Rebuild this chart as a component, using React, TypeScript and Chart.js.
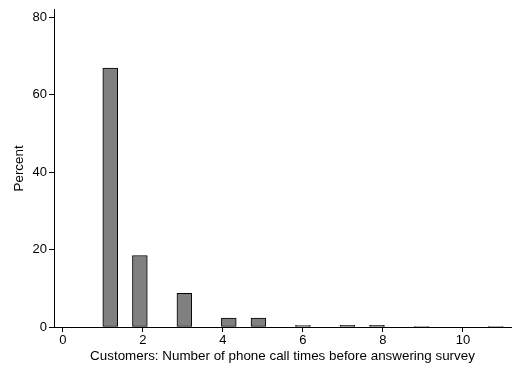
import { useEffect, useRef } from "react";
import { Chart, registerables } from "chart.js";

Chart.register(...registerables);

// Observed share of customers (percent) by number of calls before they answered
const callTimes = [1, 2, 3, 4, 5, 6, 7, 8, 9, 10, 11];
const percents = [66.85, 18.45, 8.7, 2.3, 2.3, 0.45, 0.4, 0.4, 0.1, 0, 0.15];

// Histogram binning: 27 equal bins between the smallest and largest value
const binCount = 27;
const binLow = 1;
const binHigh = 11;

const xTickValues = [0, 2, 4, 6, 8, 10];
const yTickValues = [0, 20, 40, 60, 80];

const xTitle = "Customers: Number of phone call times before answering survey";
const yTitle = "Percent";

const FONT_FAMILY = "'Liberation Sans', Arial, Helvetica, sans-serif";

function buildBins() {
  const width = (binHigh - binLow) / binCount;
  const sums: number[] = new Array(binCount).fill(0);
  callTimes.forEach((v, i) => {
    const idx = Math.min(Math.floor((v - binLow) / width + 1e-9), binCount - 1);
    sums[idx] += percents[i];
  });
  return sums.map((s, i) => ({
    x: binLow + (i + 0.5) * width,
    y: s > 0 ? s : null,
  }));
}

export default function App() {
  const canvasRef = useRef<HTMLCanvasElement | null>(null);

  useEffect(() => {
    document.body.style.margin = "0";
    const canvas = canvasRef.current;
    if (!canvas) return;

    const tickFont = { family: FONT_FAMILY, size: 13 };
    const titleFont = { family: FONT_FAMILY, size: 13.4 };

    const chart = new Chart(canvas, {
      type: "bar",
      data: {
        datasets: [
          {
            data: buildBins() as any,
            backgroundColor: "#808080",
            borderColor: "#000000",
            borderWidth: 1,
            barPercentage: 1,
            categoryPercentage: 1,
            borderSkipped: false,
          },
        ],
      },
      options: {
        responsive: false,
        animation: false,
        devicePixelRatio: 1,
        layout: { padding: { left: 0, right: 8, top: 9, bottom: 0 } },
        plugins: {
          legend: { display: false },
          tooltip: { enabled: false },
        },
        scales: {
          x: {
            type: "linear",
            min: -0.22,
            max: 11.2,
            offset: false,
            afterFit: (scale: any) => {
              scale.height = 42;
            },
            afterBuildTicks: (scale: any) => {
              scale.ticks = xTickValues.map((v) => ({ value: v }));
            },
            grid: {
              offset: false,
              drawOnChartArea: false,
              drawTicks: true,
              tickLength: 5,
              color: "#000000",
              lineWidth: 1,
            },
            border: { display: true, color: "#000000", width: 1 },
            ticks: {
              color: "#000000",
              font: tickFont,
              padding: 1,
              maxRotation: 0,
              autoSkip: false,
            },
            title: {
              display: true,
              text: xTitle,
              color: "#000000",
              font: titleFont,
              padding: { top: 0, bottom: 5 },
            },
          },
          y: {
            type: "linear",
            min: 0,
            max: 81.9,
            afterFit: (scale: any) => {
              scale.width = 54;
            },
            afterBuildTicks: (scale: any) => {
              scale.ticks = yTickValues.map((v) => ({ value: v }));
            },
            grid: {
              drawOnChartArea: false,
              drawTicks: true,
              tickLength: 5,
              color: "#000000",
              lineWidth: 1,
            },
            border: { display: true, color: "#000000", width: 1 },
            ticks: {
              color: "#000000",
              font: tickFont,
              padding: 2,
              autoSkip: false,
            },
            title: {
              display: true,
              text: yTitle,
              color: "#000000",
              font: titleFont,
              padding: { top: 11, bottom: 0 },
            },
          },
        },
      },
    });

    return () => {
      chart.destroy();
    };
  }, []);

  return (
    <div style={{ width: 519, height: 369, background: "#ffffff" }}>
      <canvas ref={canvasRef} width={519} height={369} style={{ display: "block" }} />
    </div>
  );
}
